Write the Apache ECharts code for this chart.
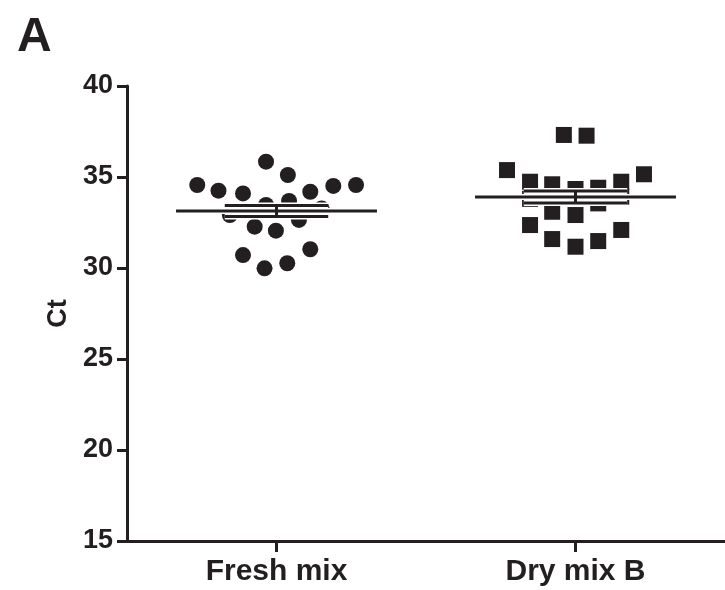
<!DOCTYPE html>
<html>
<head>
<meta charset="utf-8">
<script src="https://cdn.jsdelivr.net/npm/echarts@6/dist/echarts.min.js"></script>
<style>
html,body{margin:0;padding:0;background:#fff;}
#chart{width:725px;height:590px;}
</style>
</head>
<body>
<div id="chart"></div>
<script>
// ---- data ----
const categories = ['Fresh mix', 'Dry mix B'];
const yTicks = [15, 20, 25, 30, 35, 40];

const freshValues  = [35.84, 35.11, 34.56, 34.25, 34.10, 34.19, 34.51, 34.56, 33.46, 33.68,
                      32.91, 33.27, 32.27, 32.05, 32.64, 30.71, 29.98, 30.26, 31.03];
const freshJitter  = [-0.035, 0.038, -0.265, -0.194, -0.112, 0.113, 0.19, 0.266, -0.035, 0.042,
                      -0.156, 0.151, -0.073, -0.002, 0.075, -0.112, -0.04, 0.036, 0.113];

const dryValues    = [37.31, 37.27, 35.38, 35.15, 34.74, 34.60, 34.34, 34.41, 34.74, 33.80,
                      33.09, 32.91, 33.55, 33.92, 32.36, 31.59, 31.17, 31.48, 32.09];
const dryJitter    = [-0.039, 0.037, -0.229, 0.229, -0.152, -0.078, 0.0, 0.076, 0.153, -0.152,
                      -0.078, 0.0, 0.076, 0.153, -0.152, -0.078, 0.0, 0.076, 0.153];

const meanValues = [33.13, 33.9];
const semValues  = [0.30, 0.33];

// ---- build ----
const ink = '#231f20';
const font = 'Liberation Sans, Arial, Helvetica, sans-serif';
const freshData = freshValues.map((v, i) => [1 + freshJitter[i], v]);
const dryData = dryValues.map((v, i) => [2 + dryJitter[i], v]);
const summaryData = meanValues.map((m, i) => [i + 1, m, semValues[i]]);

const MEAN_HALF = 0.336, CAP_HALF = 0.173;

function line(x1, y1, x2, y2, color, w) {
  return { type: 'line', shape: { x1, y1, x2, y2 }, style: { stroke: color, lineWidth: w } };
}

const chart = echarts.init(document.getElementById('chart'), null, { renderer: 'canvas' });
chart.setOption({
  animation: false,
  backgroundColor: '#fff',
  title: {
    text: 'A', left: 12, top: 9,
    textStyle: { fontFamily: font, fontWeight: 'bold', fontSize: 48, color: ink }
  },
  grid: { left: 127, right: -14, top: 86, bottom: 49, containLabel: false },
  xAxis: {
    type: 'value', min: 0.5, max: 2.5,
    splitLine: { show: false },
    axisLine: { show: true, lineStyle: { color: ink, width: 3 } },
    axisTick: { show: true, customValues: [1, 2], length: 11, lineStyle: { color: ink, width: 3 } },
    axisLabel: {
      customValues: [1, 2], margin: 16,
      formatter: v => categories[Math.round(v) - 1] || '',
      fontFamily: font, fontWeight: 'bold', fontSize: 30, color: ink
    }
  },
  yAxis: {
    type: 'value', min: yTicks[0], max: yTicks[yTicks.length - 1], interval: 5,
    name: 'Ct', nameLocation: 'middle', nameGap: 45, nameRotate: 90,
    nameTextStyle: { fontFamily: font, fontWeight: 'bold', fontSize: 27, color: ink },
    splitLine: { show: false },
    axisLine: { show: true, lineStyle: { color: ink, width: 3 } },
    axisTick: { show: true, length: 10, lineStyle: { color: ink, width: 3 } },
    axisLabel: {
      margin: 14,
      fontFamily: font, fontWeight: 'bold', fontSize: 27, color: ink
    }
  },
  series: [
    {
      type: 'scatter', data: freshData, symbol: 'circle', symbolSize: 16,
      itemStyle: { color: ink, opacity: 1 }, z: 2
    },
    {
      type: 'scatter', data: dryData, symbol: 'rect', symbolSize: 16,
      itemStyle: { color: ink, opacity: 1 }, z: 2
    },
    {
      type: 'custom', data: summaryData, z: 5,
      renderItem: function (params, api) {
        const x = api.value(0), m = api.value(1), s = api.value(2);
        const c = api.coord([x, m]);
        const t = api.coord([x, m + s]);
        const b = api.coord([x, m - s]);
        const unit = api.size([1, 0])[0];
        const hm = unit * MEAN_HALF, hc = unit * CAP_HALF;
        return {
          type: 'group',
          children: [
            line(c[0], t[1], c[0], b[1], '#fff', 6),
            line(c[0] - hc, t[1], c[0] + hc, t[1], '#fff', 6),
            line(c[0] - hc, b[1], c[0] + hc, b[1], '#fff', 6),
            line(c[0] - hm, c[1], c[0] + hm, c[1], '#fff', 6),
            line(c[0], t[1], c[0], b[1], ink, 3),
            line(c[0] - hc, t[1], c[0] + hc, t[1], ink, 3),
            line(c[0] - hc, b[1], c[0] + hc, b[1], ink, 3),
            line(c[0] - hm, c[1], c[0] + hm, c[1], ink, 3)
          ]
        };
      }
    }
  ]
});
</script>
</body>
</html>
